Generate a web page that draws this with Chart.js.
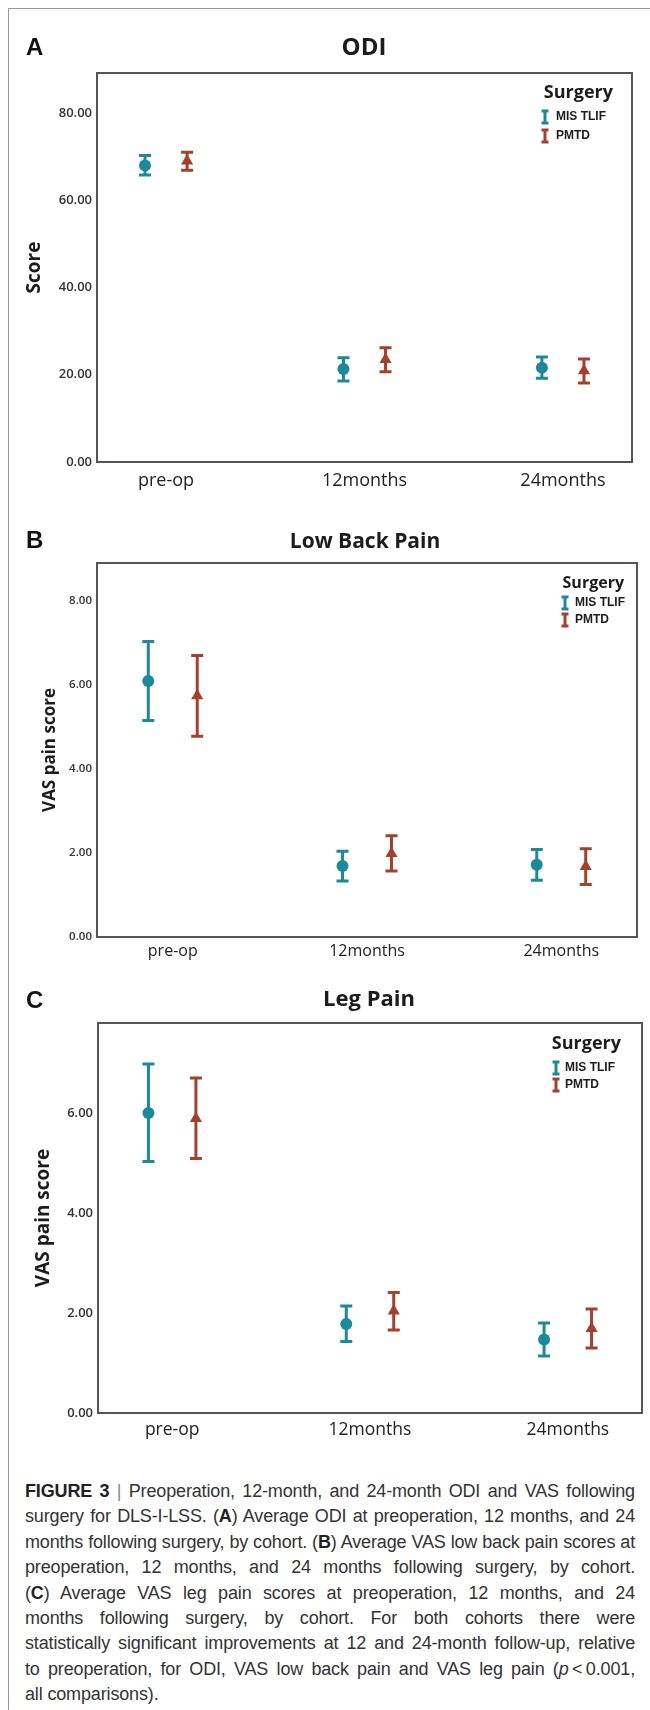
<!DOCTYPE html>
<html>
<head>
<meta charset="utf-8">
<script src="https://cdn.jsdelivr.net/npm/chart.js@4.4.1/dist/chart.umd.min.js"></script>
<style>
  body { margin: 0; background: #fff; }
  #page { position: relative; width: 650px; height: 1710px; overflow: hidden; background: #fff; }
  #frame { position: absolute; left: 8px; top: 8px; width: 700px; height: 1800px;
           border-left: 1.5px solid #9a9a9a; border-top: 1.5px solid #9a9a9a; }
  canvas { position: absolute; left: 0; }
  .letter { position: absolute; left: 26px; font: bold 24px "Liberation Sans", Arial, sans-serif;
            line-height: 1; color: #111; }
  .title { position: absolute; font-family: "Open Sans", sans-serif; font-weight: bold; line-height: 1;
           transform: translate(-50%, -50%); white-space: nowrap; color: #1c1c1c; }
  #caption { position: absolute; left: 25px; top: 1479px; width: 610px; letter-spacing: -0.15px;
             font: 18px/25.4px "Liberation Sans", Arial, sans-serif; color: #333; }
  #caption div { white-space: nowrap; text-align: justify; text-align-last: justify; }
  #caption div.last { text-align-last: left; }
  #caption b { color: #222; }
  .sep { color: #888; }
</style>
</head>
<body>
<div id="page">
  <div id="frame"></div>

  <canvas id="chartA" width="650" height="500" style="top:0px"></canvas>
  <canvas id="chartB" width="650" height="470" style="top:500px"></canvas>
  <canvas id="chartC" width="650" height="480" style="top:970px"></canvas>

  <div class="letter" style="top:35px">A</div>
  <div class="title" style="left:364px; top:46px; font-size:24px">ODI</div>
  <div class="letter" style="top:528px">B</div>
  <div class="title" style="left:365px; top:540px; font-size:21px">Low Back Pain</div>
  <div class="letter" style="top:988px">C</div>
  <div class="title" style="left:369px; top:997px; font-size:22px">Leg Pain</div>

  <div id="caption">
    <div><b>FIGURE 3</b> <span class="sep">|</span> Preoperation, 12-month, and 24-month ODI and VAS following</div>
    <div>surgery for DLS-I-LSS. (<b>A</b>) Average ODI at preoperation, 12 months, and 24</div>
    <div>months following surgery, by cohort. (<b>B</b>) Average VAS low back pain scores at</div>
    <div>preoperation, 12 months, and 24 months following surgery, by cohort.</div>
    <div>(<b>C</b>) Average VAS leg pain scores at preoperation, 12 months, and 24</div>
    <div>months following surgery, by cohort. For both cohorts there were</div>
    <div>statistically significant improvements at 12 and 24-month follow-up, relative</div>
    <div>to preoperation, for ODI, VAS low back pain and VAS leg pain (<i>p</i>&thinsp;&lt;&thinsp;0.001,</div>
    <div class="last">all comparisons).</div>
  </div>
</div>

<script>
// categories
var timepoints = ['pre-op', '12months', '24months'];
var groups = ['MIS TLIF', 'PMTD'];

// A - ODI (mean and 95% CI)
var odiTicks = [0, 20, 40, 60, 80];
var odiMax = 89.2;
var odiMisMean = [68.0, 21.3, 21.6];
var odiMisLow = [65.8, 18.6, 19.2];
var odiMisHigh = [70.3, 23.9, 24.1];
var odiPmtdMean = [69.0, 23.5, 20.9];
var odiPmtdLow = [66.9, 20.7, 18.1];
var odiPmtdHigh = [71.0, 26.2, 23.6];

// B - low back pain
var lbpTicks = [0, 2, 4, 6, 8];
var lbpMax = 8.9;
var lbpMisMean = [6.09, 1.69, 1.72];
var lbpMisLow = [5.15, 1.33, 1.35];
var lbpMisHigh = [7.03, 2.04, 2.08];
var lbpPmtdMean = [5.74, 1.99, 1.68];
var lbpPmtdLow = [4.78, 1.57, 1.25];
var lbpPmtdHigh = [6.70, 2.41, 2.10];

// C - leg pain
var legTicks = [0, 2, 4, 6];
var legMax = 7.8;
var legMisMean = [6.00, 1.78, 1.47];
var legMisLow = [5.03, 1.43, 1.14];
var legMisHigh = [6.98, 2.14, 1.80];
var legPmtdMean = [5.89, 2.04, 1.69];
var legPmtdLow = [5.09, 1.66, 1.30];
var legPmtdHigh = [6.70, 2.41, 2.08];

var teal = '#1b8a9b';
var rust = '#a4402b';

// frame round the plot area
var plotBox = {
  id: 'plotBox',
  afterDraw: function(chart) {
    var a = chart.chartArea, ctx = chart.ctx;
    ctx.save();
    ctx.strokeStyle = '#595454';
    ctx.lineWidth = 2;
    ctx.strokeRect(a.left, a.top, a.right - a.left, a.bottom - a.top);
    ctx.restore();
  }
};

// vertical CI bars with caps, drawn under the markers
var errorBars = {
  id: 'errorBars',
  beforeDatasetsDraw: function(chart) {
    var ctx = chart.ctx, y = chart.scales.y;
    chart.data.datasets.forEach(function(ds, i) {
      chart.getDatasetMeta(i).data.forEach(function(pt, j) {
        var top = y.getPixelForValue(ds.high[j]);
        var bot = y.getPixelForValue(ds.low[j]);
        ctx.save();
        ctx.strokeStyle = ds.borderColor;
        ctx.lineWidth = 3;
        ctx.beginPath();
        ctx.moveTo(pt.x, top); ctx.lineTo(pt.x, bot);
        ctx.moveTo(pt.x - 6, top); ctx.lineTo(pt.x + 6, top);
        ctx.moveTo(pt.x - 6, bot); ctx.lineTo(pt.x + 6, bot);
        ctx.stroke();
        ctx.restore();
      });
    });
  }
};

// "Surgery" legend in the top right of the plot
var surgeryLegend = {
  id: 'surgeryLegend',
  afterDraw: function(chart, args, o) {
    var a = chart.chartArea, ctx = chart.ctx;
    ctx.save();
    ctx.textBaseline = 'middle';
    ctx.fillStyle = '#1c1c1c';
    ctx.textAlign = 'right';
    ctx.font = 'bold ' + o.titleSize + 'px "Open Sans"';
    ctx.fillText('Surgery', a.right - o.titleRight, a.top + o.titleTop);
    chart.data.datasets.forEach(function(ds, i) {
      var yy = a.top + o.itemTop + i * o.itemGap;
      var xx = a.right - o.iconRight;
      ctx.strokeStyle = ds.borderColor;
      ctx.lineWidth = 3;
      ctx.beginPath();
      ctx.moveTo(xx, yy - 6); ctx.lineTo(xx, yy + 6);
      ctx.moveTo(xx - 3.5, yy - 6); ctx.lineTo(xx + 3.5, yy - 6);
      ctx.moveTo(xx - 3.5, yy + 6); ctx.lineTo(xx + 3.5, yy + 6);
      ctx.stroke();
      ctx.font = 'bold 12px "Liberation Sans"';
      ctx.textAlign = 'left';
      ctx.fillText(ds.label, xx + o.textGap, yy);
    });
    ctx.restore();
  }
};

function makeSet(label, mean, low, high, color, dodge, style, radius) {
  return {
    label: label,
    data: mean.map(function(v, i) { return { x: i + dodge, y: v }; }),
    low: low,
    high: high,
    pointStyle: style,
    pointRadius: radius,
    backgroundColor: color,
    borderColor: color,
    borderWidth: 0,
    showLine: false
  };
}

function makeChart(id, p) {
  var ctx = document.getElementById(id).getContext('2d');
  return new Chart(ctx, {
    type: 'scatter',
    data: {
      datasets: [
        makeSet(groups[0], p.misMean, p.misLow, p.misHigh, teal, -p.dodge, 'circle', 6),
        makeSet(groups[1], p.pmtdMean, p.pmtdLow, p.pmtdHigh, rust, p.dodge, 'triangle', 7)
      ]
    },
    options: {
      responsive: false,
      animation: false,
      events: [],
      layout: { padding: { top: p.top, right: p.right, left: 0, bottom: 0 } },
      plugins: {
        legend: { display: false },
        tooltip: { enabled: false },
        surgeryLegend: p.legend
      },
      scales: {
        x: {
          type: 'linear',
          min: -p.xPad,
          max: 2 + p.xPad,
          afterBuildTicks: function(axis) {
            axis.ticks = timepoints.map(function(t, i) { return { value: i }; });
          },
          afterFit: function(s) { s.height = p.xHeight; },
          grid: { display: false, drawTicks: false },
          border: { display: false },
          ticks: {
            autoSkip: false,
            maxRotation: 0,
            padding: p.xLabelPad,
            color: '#222',
            font: { family: 'Open Sans', size: p.xFont },
            callback: function(v) { return timepoints[Math.round(v)]; }
          }
        },
        y: {
          min: 0,
          max: p.yMax,
          afterBuildTicks: function(axis) {
            axis.ticks = p.yTicks.map(function(v) { return { value: v }; });
          },
          afterFit: function(s) { s.width = p.yWidth; },
          grid: { display: false, drawTicks: false },
          border: { display: false },
          ticks: {
            autoSkip: false,
            padding: 5,
            color: '#333',
            font: { family: 'Open Sans', size: p.yFont, weight: '600' },
            callback: function(v) { return v.toFixed(2); }
          },
          title: {
            display: true,
            text: p.yTitle,
            color: '#1c1c1c',
            font: { family: 'Open Sans', size: p.titleFont, weight: 'bold' },
            padding: { top: p.titlePad, bottom: 0 }
          }
        }
      }
    },
    plugins: [errorBars, plotBox, surgeryLegend]
  });
}

makeChart('chartA', {
  misMean: odiMisMean, misLow: odiMisLow, misHigh: odiMisHigh,
  pmtdMean: odiPmtdMean, pmtdLow: odiPmtdLow, pmtdHigh: odiPmtdHigh,
  yTicks: odiTicks, yMax: odiMax, yTitle: 'Score',
  top: 73, right: 18, xHeight: 38, yWidth: 97,
  xPad: 0.348, dodge: 0.106, xFont: 18, xLabelPad: 8, yFont: 13,
  titleFont: 19, titlePad: 23,
  legend: { titleSize: 18, titleRight: 19, titleTop: 20, iconRight: 87, textGap: 11, itemTop: 44, itemGap: 19 }
});

makeChart('chartB', {
  misMean: lbpMisMean, misLow: lbpMisLow, misHigh: lbpMisHigh,
  pmtdMean: lbpPmtdMean, pmtdLow: lbpPmtdLow, pmtdHigh: lbpPmtdHigh,
  yTicks: lbpTicks, yMax: lbpMax, yTitle: 'VAS pain score',
  top: 63, right: 13, xHeight: 33, yWidth: 97,
  xPad: 0.39, dodge: 0.126, xFont: 16, xLabelPad: 5, yFont: 11.5,
  titleFont: 17, titlePad: 40,
  legend: { titleSize: 16, titleRight: 13, titleTop: 20, iconRight: 72, textGap: 10, itemTop: 40, itemGap: 17 }
});

makeChart('chartC', {
  misMean: legMisMean, misLow: legMisLow, misHigh: legMisHigh,
  pmtdMean: legPmtdMean, pmtdLow: legPmtdLow, pmtdHigh: legPmtdHigh,
  yTicks: legTicks, yMax: legMax, yTitle: 'VAS pain score',
  top: 53, right: 8, xHeight: 37, yWidth: 98,
  xPad: 0.375, dodge: 0.12, xFont: 17.5, xLabelPad: 6.5, yFont: 13,
  titleFont: 19, titlePad: 32,
  legend: { titleSize: 18, titleRight: 21, titleTop: 21, iconRight: 86, textGap: 9, itemTop: 45, itemGap: 17 }
});
</script>
</body>
</html>
